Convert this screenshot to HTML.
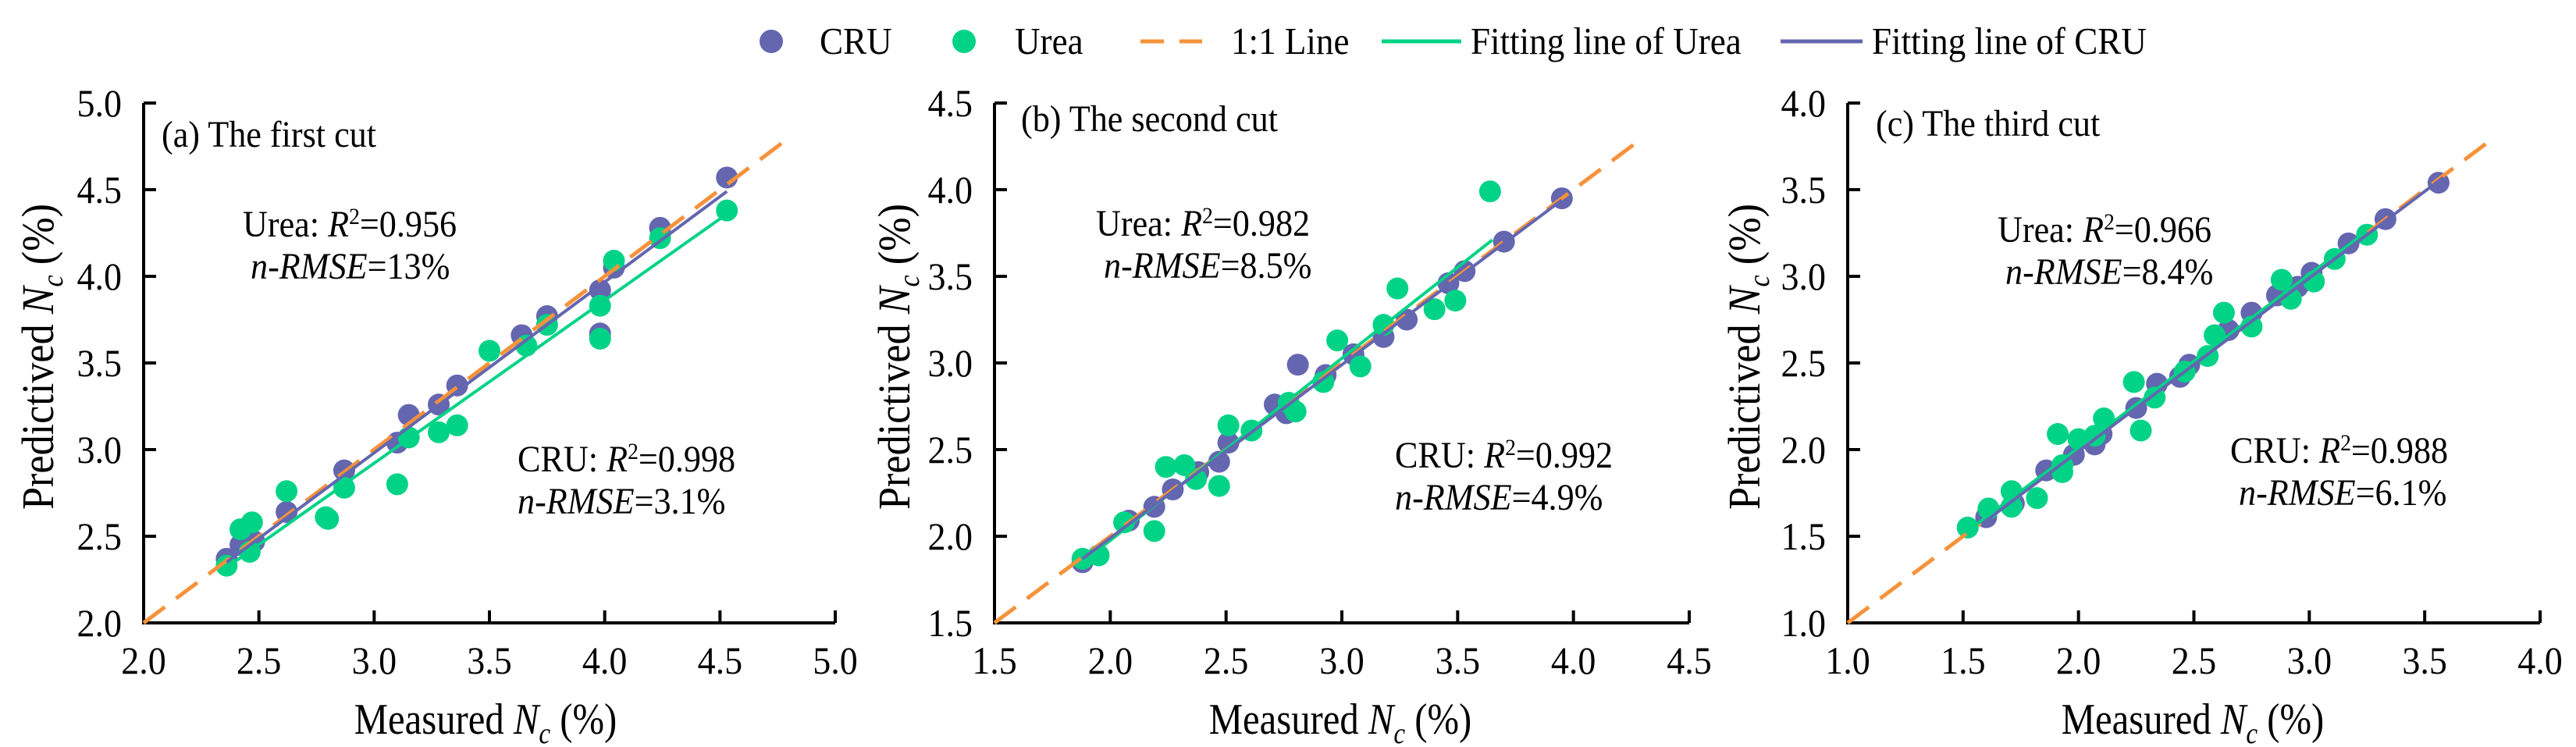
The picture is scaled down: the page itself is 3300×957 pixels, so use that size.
<!DOCTYPE html>
<html><head><meta charset="utf-8"><style>
html,body{margin:0;padding:0;background:#fff;overflow:hidden;}
svg{display:block;}
svg text{font-family:"Liberation Serif","Times New Roman","DejaVu Serif",serif;}
</style></head><body>
<svg id="chart" width="3300" height="957" viewBox="0 0 3300 957" xmlns="http://www.w3.org/2000/svg" font-family="'Liberation Serif', 'DejaVu Serif', serif"></svg>
<script>
// ---- data ----
const panelTitles = ["(a)  The first cut", "(b)  The second cut", "(c)  The third cut"];
const axisMins = [2.0, 1.5, 1.0];
const axisMaxs = [5.0, 4.5, 4.0];
const tickLabelsA = ["2.0","2.5","3.0","3.5","4.0","4.5","5.0"];
const tickLabelsB = ["1.5","2.0","2.5","3.0","3.5","4.0","4.5"];
const tickLabelsC = ["1.0","1.5","2.0","2.5","3.0","3.5","4.0"];
const oneToOneEnd = [4.8, 4.3, 3.8];
const ureaR2 = ["0.956","0.982","0.966"];
const ureaRMSE = ["13%","8.5%","8.4%"];
const cruR2 = ["0.998","0.992","0.988"];
const cruRMSE = ["3.1%","4.9%","6.1%"];

const cruA = [[2.36,2.37],[2.42,2.45],[2.48,2.47],[2.62,2.64],[2.87,2.88],[3.10,3.04],[3.15,3.20],[3.28,3.26],[3.36,3.37],[3.64,3.66],[3.75,3.77],[3.98,3.92],[3.98,3.67],[4.04,4.05],[4.24,4.28],[4.53,4.57]];
const ureaA = [[2.36,2.33],[2.42,2.54],[2.47,2.58],[2.46,2.41],[2.62,2.76],[2.79,2.61],[2.80,2.60],[2.87,2.78],[3.10,2.80],[3.15,3.07],[3.28,3.10],[3.36,3.14],[3.50,3.57],[3.66,3.60],[3.75,3.72],[3.98,3.83],[3.98,3.64],[4.04,4.09],[4.24,4.22],[4.53,4.38]];
const cruB = [[1.88,1.85],[2.08,2.09],[2.19,2.17],[2.27,2.27],[2.38,2.37],[2.47,2.43],[2.51,2.54],[2.71,2.76],[2.76,2.71],[2.81,2.99],[2.93,2.93],[3.05,3.05],[3.18,3.15],[3.28,3.25],[3.46,3.46],[3.53,3.53],[3.70,3.70],[3.95,3.95]];
const ureaB = [[1.88,1.87],[1.95,1.89],[2.06,2.08],[2.19,2.03],[2.24,2.40],[2.32,2.41],[2.37,2.33],[2.47,2.29],[2.51,2.64],[2.61,2.61],[2.77,2.77],[2.80,2.72],[2.92,2.89],[2.98,3.13],[3.08,2.98],[3.18,3.22],[3.24,3.43],[3.40,3.31],[3.49,3.36],[3.64,3.99]];
const cruC = [[1.60,1.61],[1.72,1.69],[1.86,1.88],[1.98,1.97],[2.07,2.03],[2.10,2.09],[2.25,2.24],[2.34,2.38],[2.44,2.42],[2.48,2.49],[2.65,2.69],[2.75,2.79],[2.86,2.89],[2.95,2.94],[3.01,3.02],[3.17,3.19],[3.33,3.33],[3.56,3.54]];
const ureaC = [[1.52,1.55],[1.61,1.66],[1.71,1.76],[1.71,1.67],[1.82,1.72],[1.91,2.09],[1.93,1.91],[1.93,1.87],[2.00,2.06],[2.07,2.08],[2.11,2.18],[2.24,2.39],[2.27,2.11],[2.33,2.30],[2.46,2.45],[2.56,2.54],[2.59,2.66],[2.63,2.79],[2.75,2.71],[2.88,2.98],[2.92,2.87],[3.02,2.97],[3.11,3.10],[3.25,3.24]];
const fitCruA = [[2.36,2.35],[4.53,4.49]];
const fitUreaA = [[2.36,2.32],[4.53,4.36]];
const fitCruB = [[1.88,1.87],[3.95,3.94]];
const fitUreaB = [[1.88,1.85],[3.65,3.71]];
const fitCruC = [[1.58,1.57],[3.58,3.57]];
const fitUreaC = [[1.55,1.56],[3.25,3.26]];

const PURPLE = "#6466b0", GREEN = "#00d386", ORANGE = "#f6923a";
const FONT = "'Liberation Serif', 'DejaVu Serif', serif";
const NS = "http://www.w3.org/2000/svg";
const svg = document.getElementById("chart");
function mk(tag, attrs, parent){ const e=document.createElementNS(NS,tag); for(const k in attrs) e.setAttribute(k,attrs[k]); (parent||svg).appendChild(e); return e; }

const panels = [
 {left:184,right:1070,tl:tickLabelsA,cru:cruA,urea:ureaA,fc:fitCruA,fu:fitUreaA,tx:207,ty:188,ux:311,uy:303,cx:663,cy:604,cx2:663,yt:68,xt:622},
 {left:1274,right:2164,tl:tickLabelsB,cru:cruB,urea:ureaB,fc:fitCruB,fu:fitUreaB,tx:1308,ty:168,ux:1404,uy:302,cx:1787,cy:599,cx2:1787,yt:1165,xt:1717},
 {left:2367,right:3254,tl:tickLabelsC,cru:cruC,urea:ureaC,fc:fitCruC,fu:fitUreaC,tx:2403,ty:174,ux:2559,uy:310,cx:2857,cy:593,cx2:2868,yt:2254,xt:2809}
];
const TOP=132, BOT=798;

function txt(parent,x,y,size,anchor,html,name,rot,sx){
  const t=mk("text",{x:0,y:0,"font-size":size,"font-family":FONT,"text-anchor":anchor||"start",fill:"#000",
    transform:"translate("+x+","+y+")"+(rot?" rotate(-90)":"")+" scale("+(sx||0.92)+",1)"},parent);
  t.innerHTML=html;
  
  
  return t;
}

panels.forEach((p,i)=>{
  const g=mk("g",{});
  
  
  const mn=axisMins[i], mx=axisMaxs[i];
  const X=v=>p.left+(v-mn)/(mx-mn)*(p.right-p.left);
  const Y=v=>BOT-(v-mn)/(mx-mn)*(BOT-TOP);
  const ax=mk("path",{d:`M${p.left},${TOP} V${BOT} H${p.right}`,fill:"none",stroke:"#000","stroke-width":4},g);
  
  
  p.tl.forEach((lab,k)=>{
    const v=mn+k*0.5;
    mk("line",{x1:X(v),x2:X(v),y1:BOT,y2:BOT-16,stroke:"#000","stroke-width":4},g);
    mk("line",{x1:p.left,x2:p.left+16,y1:Y(v),y2:Y(v),stroke:"#000","stroke-width":4},g);
    txt(g,X(v),863,50,"middle",lab,"x-tick-label");
    txt(g,p.left-28,Y(v)+17,50,"end",lab,"y-tick-label");
  });
  txt(g,p.xt,940,56,"middle",'Measured  <tspan font-style="italic">N</tspan><tspan font-style="italic" font-size="38" dy="12">c</tspan><tspan dy="-12"> (%)</tspan>',"x-axis-title",false,0.87);
  txt(g,p.yt,457,58,"middle",'Predictived <tspan font-style="italic">N</tspan><tspan font-style="italic" font-size="38" dy="12">c</tspan><tspan dy="-12">  (%)</tspan>',"y-axis-title",true,0.9);
  txt(g,p.tx,p.ty,48,"start",panelTitles[i],"panel-title");
  txt(g,p.ux,p.uy,48,"start",'Urea: <tspan font-style="italic">R</tspan><tspan font-size="30" dy="-16">2</tspan><tspan dy="16">='+ureaR2[i]+'</tspan>',"urea-r2-label");
  txt(g,p.ux+10,p.uy+54,48,"start",'<tspan font-style="italic">n-RMSE</tspan>='+ureaRMSE[i],"urea-rmse-label");
  txt(g,p.cx,p.cy,48,"start",'CRU: <tspan font-style="italic">R</tspan><tspan font-size="30" dy="-16">2</tspan><tspan dy="16">='+cruR2[i]+'</tspan>',"cru-r2-label");
  txt(g,p.cx2,p.cy+54,48,"start",'<tspan font-style="italic">n-RMSE</tspan>='+cruRMSE[i],"cru-rmse-label");
  p.cru.forEach(d=>{ const c=mk("circle",{cx:X(d[0]),cy:Y(d[1]),r:14,fill:PURPLE},g);
      });
  p.urea.forEach(d=>{ const c=mk("circle",{cx:X(d[0]),cy:Y(d[1]),r:14,fill:GREEN},g);
      });
  const l1=mk("line",{x1:X(mn),y1:Y(mn),x2:X(oneToOneEnd[i]),y2:Y(oneToOneEnd[i]),stroke:ORANGE,"stroke-width":5,"stroke-dasharray":"34 18"},g);
   
  const fu=mk("line",{x1:X(p.fu[0][0]),y1:Y(p.fu[0][1]),x2:X(p.fu[1][0]),y2:Y(p.fu[1][1]),stroke:GREEN,"stroke-width":4},g);
   
  const fc=mk("line",{x1:X(p.fc[0][0]),y1:Y(p.fc[0][1]),x2:X(p.fc[1][0]),y2:Y(p.fc[1][1]),stroke:PURPLE,"stroke-width":4},g);
   
});

const lg=mk("g",{});


mk("circle",{cx:988,cy:53,r:15,fill:PURPLE},lg);
txt(lg,1050,69,49,"start","CRU","legend-cru");
mk("circle",{cx:1235,cy:53,r:15,fill:GREEN},lg);
txt(lg,1300,69,49,"start","Urea","legend-urea");
mk("line",{x1:1461,y1:53,x2:1540,y2:53,stroke:ORANGE,"stroke-width":5,"stroke-dasharray":"30 20"},lg);
txt(lg,1577,69,49,"start","1:1 Line","legend-one-to-one");
mk("line",{x1:1770,y1:53,x2:1872,y2:53,stroke:GREEN,"stroke-width":5},lg);
txt(lg,1884,69,49,"start","Fitting line of  Urea","legend-urea-fit");
mk("line",{x1:2281,y1:53,x2:2386,y2:53,stroke:PURPLE,"stroke-width":5},lg);
txt(lg,2398,69,49,"start","Fitting line of  CRU","legend-cru-fit");
</script>
</body></html>
